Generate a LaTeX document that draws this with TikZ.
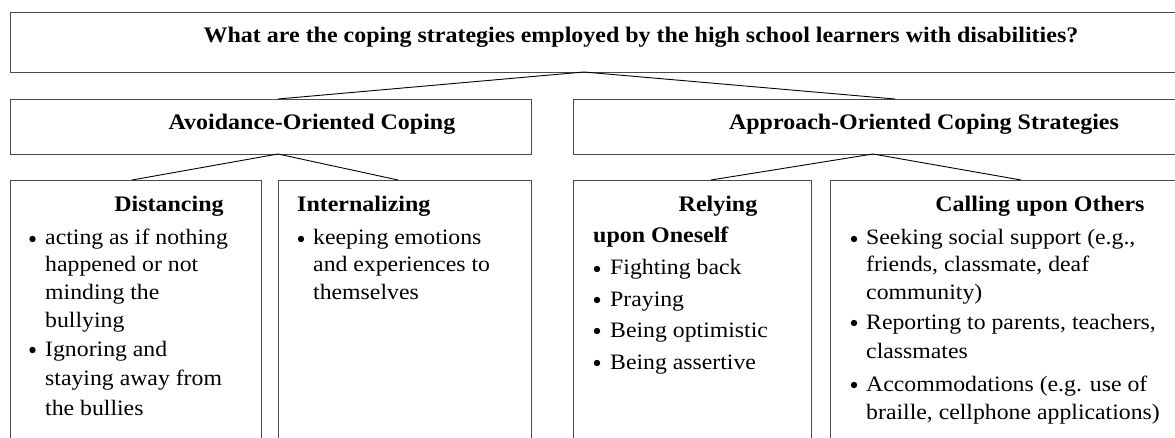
\documentclass[tikz,border=0pt]{standalone}
\usepackage{fontspec}
\setmainfont[FakeStretch=1.08]{Liberation Serif}
\definecolor{boxgray}{HTML}{4A4A4A}
\begin{document}
\begin{tikzpicture}[x=1pt,y=-1pt,
  panel/.style={draw=boxgray, line width=1.3pt, rectangle, inner sep=0pt, anchor=north west},
  link/.style={draw=black, line width=0.9pt},
  txt/.style={inner sep=0pt, anchor=base west, font=\fontsize{22}{26}\selectfont},
  hd/.style={txt, font=\fontsize{22.2}{26}\selectfont\bfseries},
  hdc/.style={hd, anchor=base},
  dot/.style={circle, fill=black, inner sep=0pt, minimum size=6.4pt}]
\useasboundingbox (0,0) rectangle (1175,438);
\clip (0,0) rectangle (1175,438);
% boxes
\node[panel, minimum width=1180pt, minimum height=60pt] (q) at (10,12) {};
\node[panel, minimum width=521pt, minimum height=55pt] (avoid) at (10,99) {};
\node[panel, minimum width=617pt, minimum height=55pt] (appr) at (573,99) {};
\node[panel, minimum width=251pt, minimum height=280pt] (dist) at (10,180) {};
\node[panel, minimum width=253pt, minimum height=280pt] (intern) at (278,180) {};
\node[panel, minimum width=238pt, minimum height=280pt] (rely) at (573,180) {};
\node[panel, minimum width=360pt, minimum height=280pt] (call) at (830,180) {};
% attachment points
\coordinate (qa) at (584,72);
\coordinate (avtop) at (278,99);
\coordinate (aptop) at (895,99);
\coordinate (ava) at (278,154);
\coordinate (apa) at (873,154);
\coordinate (disttop) at (132,180);
\coordinate (inttop) at (398,180);
\coordinate (relytop) at (711,180);
\coordinate (calltop) at (1021,180);
\draw[link] (avtop) -- (qa) -- (aptop);
\draw[link] (disttop) -- (ava) -- (inttop);
\draw[link] (relytop) -- (apa) -- (calltop);
% headings
\node[hdc] (qt) at (641,43) {What are the coping strategies employed by the high school learners with disabilities?};
\node[hdc] (avt) at (312,130) {Avoidance-Oriented Coping};
\node[hdc] (apt) at (924,130) {Approach-Oriented Coping Strategies};
\node[hdc] (dh) at (169,212) {Distancing};
\node[hd] (ih) at (297,212) {Internalizing};
\node[hdc] (rh1) at (718,212) {Relying};
\node[hd] (rh2) at (593,243) {upon Oneself};
\node[hdc] (ch) at (1040,212) {Calling upon Others};
% Distancing items
\node[dot] (db1) at (32.5,239) {};
\node[txt] (d1) at (45,245) {acting as if nothing};
\node[txt] (d2) at (45,272) {happened or not};
\node[txt] (d3) at (45,300) {minding the};
\node[txt] (d4) at (45,327) {bullying};
\node[dot] (db2) at (32.5,350) {};
\node[txt] (d5) at (45,356) {Ignoring and};
\node[txt] (d6) at (45,385) {staying away from};
\node[txt] (d7) at (45,415) {the bullies};
% Internalizing items
\node[dot] (ib1) at (301,239) {};
\node[txt] (i1) at (313,245) {keeping emotions};
\node[txt] (i2) at (313,272) {and experiences to};
\node[txt] (i3) at (313,300) {themselves};
% Relying items
\node[dot] (rb1) at (597,269) {};
\node[txt] (r1) at (610,275) {Fighting back};
\node[dot] (rb2) at (597,300) {};
\node[txt] (r2) at (610,306) {Praying};
\node[dot] (rb3) at (597,331) {};
\node[txt] (r3) at (610,337) {Being optimistic};
\node[dot] (rb4) at (597,363) {};
\node[txt] (r4) at (610,369) {Being assertive};
% Calling items
\node[dot] (cb1) at (854,239) {};
\node[txt] (c1) at (866,245) {Seeking social support (e.g.,};
\node[txt] (c2) at (866,272) {friends, classmate, deaf};
\node[txt] (c3) at (866,299) {community)};
\node[dot] (cb2) at (854,323) {};
\node[txt] (c4) at (866,329) {Reporting to parents, teachers,};
\node[txt] (c5) at (866,358) {classmates};
\node[dot] (cb3) at (854,385) {};
\node[txt] (c6) at (866,391) {Accommodations (e.g. use of};
\node[txt] (c7) at (866,419) {braille, cellphone applications)};
\end{tikzpicture}
\end{document}
